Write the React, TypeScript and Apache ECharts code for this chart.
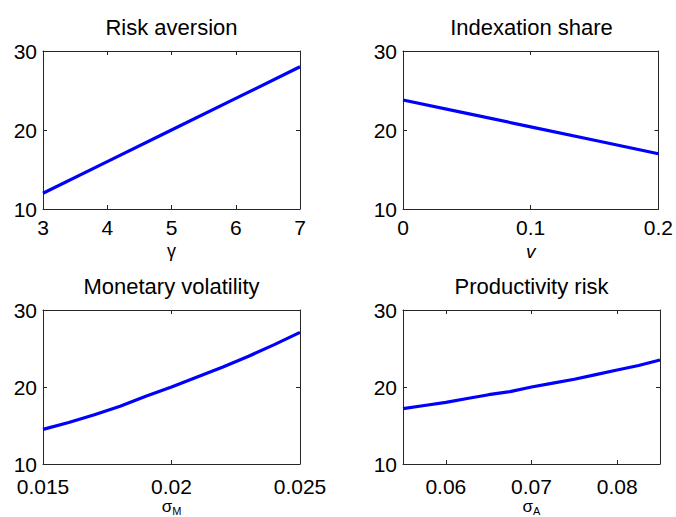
import React, { useEffect, useRef } from "react";
import * as echarts from "echarts";

// ---- data ----
const riskX = [3, 4, 5, 6, 7];
const riskY = [12, 16, 20, 24, 28];

const indexX = [0, 0.05, 0.1, 0.15, 0.2];
const indexY = [23.8, 22.1, 20.4, 18.7, 17.0];

const monX = [0.015, 0.016, 0.017, 0.018, 0.019, 0.02, 0.021, 0.022, 0.023, 0.024, 0.025];
const monY = [14.5, 15.4, 16.4, 17.5, 18.8, 20.0, 21.3, 22.6, 24.0, 25.5, 27.1];

const prodX = [0.055, 0.0575, 0.06, 0.0625, 0.065, 0.0675, 0.07, 0.0725, 0.075, 0.0775, 0.08, 0.0825, 0.085];
const prodY = [17.2, 17.6, 18.0, 18.5, 19.0, 19.4, 20.0, 20.5, 21.0, 21.6, 22.2, 22.8, 23.5];

const titles = ["Risk aversion", "Indexation share", "Monetary volatility", "Productivity risk"];

const yTicks = [10, 20, 30];
const yTickLabels = ["10", "20", "30"];

const riskTicks = [3, 4, 5, 6, 7];
const riskTickLabels = ["3", "4", "5", "6", "7"];
const indexTicks = [0, 0.1, 0.2];
const indexTickLabels = ["0", "0.1", "0.2"];
const monTicks = [0.015, 0.02, 0.025];
const monTickLabels = ["0.015", "0.02", "0.025"];
const prodTicks = [0.06, 0.07, 0.08];
const prodTickLabels = ["0.06", "0.07", "0.08"];

const FONT = "'Liberation Sans', Arial, sans-serif";
const AXIS_COLOR = "#262626";

function labelFor(ticks: number[], labels: string[]) {
  return (v: number) => {
    const i = ticks.findIndex((t) => Math.abs(t - v) < 1e-9);
    return i >= 0 ? labels[i] : "";
  };
}

export default function App() {
  const ref = useRef<HTMLDivElement>(null);

  useEffect(() => {
    document.body.style.margin = "0";
    if (!ref.current) return;
    const chart = echarts.init(ref.current, undefined, { renderer: "svg" });

    const grids = [
      { left: 43, top: 51, width: 257, height: 158 },
      { left: 403, top: 51, width: 257, height: 158 },
      { left: 43, top: 310, width: 257, height: 156 },
      { left: 403, top: 310, width: 257, height: 156 },
    ];

    const subRich = {
      a: { fontSize: 17, fontFamily: FONT, color: "#000" },
      b: { fontSize: 11, fontFamily: FONT, color: "#000", padding: [9, 0, 0, 0] },
    };

    const panels = [
      { xs: riskX, ys: riskY, min: 3, max: 7, ticks: riskTicks, labels: riskTickLabels, labelMargin: 9, yPad: [0, 0, 0, 0], name: "γ", nameGap: 33, nameStyle: { fontSize: 18, fontFamily: FONT, color: "#000" } },
      { xs: indexX, ys: indexY, min: 0, max: 0.2, ticks: indexTicks, labels: indexTickLabels, labelMargin: 9, yPad: [0, 0, 0, 0], name: "v", nameGap: 33, nameStyle: { fontSize: 19, fontStyle: "italic", fontFamily: FONT, color: "#000" } },
      { xs: monX, ys: monY, min: 0.015, max: 0.025, ticks: monTicks, labels: monTickLabels, labelMargin: 13, yPad: [0, 0, 4, 0], name: "{a|σ}{b|M}", nameGap: 32, nameStyle: { color: "#000", rich: subRich } },
      { xs: prodX, ys: prodY, min: 0.055, max: 0.085, ticks: prodTicks, labels: prodTickLabels, labelMargin: 13, yPad: [0, 0, 4, 0], name: "{a|σ}{b|A}", nameGap: 32, nameStyle: { color: "#000", rich: subRich } },
    ];

    const lineStyle = { color: AXIS_COLOR, width: 1 };
    const xAxes: any[] = [];
    const yAxes: any[] = [];
    const series: any[] = [];
    const graphics: any[] = [];

    panels.forEach((p, i) => {
      xAxes.push({
        type: "value", gridIndex: i, min: p.min, max: p.max, position: "bottom",
        axisLine: { show: true, onZero: false, lineStyle },
        axisTick: { show: true, inside: true, length: 4, customValues: p.ticks, lineStyle },
        axisLabel: { customValues: p.ticks, formatter: labelFor(p.ticks, p.labels), fontSize: 21, lineHeight: 18, color: "#000", margin: p.labelMargin, fontFamily: FONT, showMinLabel: true, showMaxLabel: true },
        splitLine: { show: false },
        name: p.name, nameLocation: "middle", nameGap: p.nameGap, nameTextStyle: p.nameStyle,
      });
      xAxes.push({
        type: "value", gridIndex: i, min: p.min, max: p.max, position: "top",
        axisLine: { show: true, onZero: false, lineStyle },
        axisTick: { show: true, inside: true, length: 4, customValues: p.ticks, lineStyle },
        axisLabel: { show: false },
        splitLine: { show: false },
      });
      yAxes.push({
        type: "value", gridIndex: i, min: 10, max: 30, position: "left",
        axisLine: { show: true, onZero: false, lineStyle },
        axisTick: { show: true, inside: true, length: 4, customValues: yTicks, lineStyle },
        axisLabel: { customValues: yTicks, formatter: labelFor(yTicks, yTickLabels), fontSize: 21, lineHeight: 18, padding: p.yPad, color: "#000", margin: 6, fontFamily: FONT, showMinLabel: true, showMaxLabel: true },
        splitLine: { show: false },
      });
      yAxes.push({
        type: "value", gridIndex: i, min: 10, max: 30, position: "right",
        axisLine: { show: true, onZero: false, lineStyle },
        axisTick: { show: true, inside: true, length: 4, customValues: yTicks, lineStyle },
        axisLabel: { show: false },
        splitLine: { show: false },
      });
      series.push({
        type: "line", xAxisIndex: 2 * i, yAxisIndex: 2 * i,
        data: p.xs.map((x, k) => [x, p.ys[k]]),
        showSymbol: false, symbol: "none", silent: true,
        lineStyle: { color: "#0000ff", width: 3.2 },
      });
      const g = grids[i];
      graphics.push({
        type: "text",
        x: g.left + g.width / 2,
        y: g.top - 24,
        style: { text: titles[i], fontSize: 22, fontFamily: FONT, fill: "#000", align: "center", verticalAlign: "middle" },
      });
    });

    chart.setOption({
      animation: false,
      backgroundColor: "#fff",
      grid: grids,
      xAxis: xAxes,
      yAxis: yAxes,
      series,
      graphic: graphics,
    });

    return () => chart.dispose();
  }, []);

  return <div ref={ref} style={{ width: 676, height: 517 }} />;
}
